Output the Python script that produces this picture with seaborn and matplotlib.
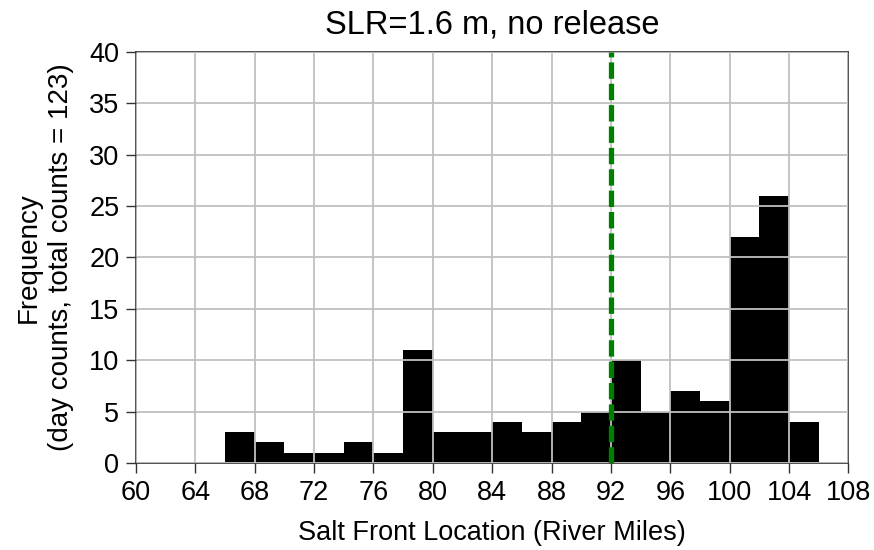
import numpy as np
import matplotlib
matplotlib.use("Agg")
import matplotlib.pyplot as plt
import seaborn as sns

bin_edges = list(range(66, 108, 2))
counts = [3, 2, 1, 1, 2, 1, 11, 3, 3, 4, 3, 4, 5, 10, 5, 7, 6, 22, 26, 4]
x_ticks = list(range(60, 112, 4))
y_ticks = list(range(0, 45, 5))
threshold = 92
title = "SLR=1.6 m, no release"
xlabel = "Salt Front Location (River Miles)"
ylabel = "Frequency\n(day counts, total counts = 123)"

sns.set_theme(style="white")
plt.rcParams['font.family'] = ['Liberation Sans', 'DejaVu Sans']
plt.rcParams['text.color'] = 'black'
plt.rcParams['axes.labelcolor'] = 'black'

centers = [e + 1 for e in bin_edges[:-1]]

fig = plt.figure(figsize=(8.74, 5.5), dpi=100)
ax = fig.add_axes([0.1556, 0.1582, 0.8152, 0.7473])

sns.histplot(x=centers, weights=counts, bins=bin_edges, color="black",
             alpha=1, edgecolor="none", linewidth=0, ax=ax, zorder=1)

ax.set_xlim(60, 108)
ax.set_ylim(0, 40)
ax.set_xticks(x_ticks)
ax.set_yticks(y_ticks)
ax.grid(True, color="#c0c0c0", linewidth=1.3, zorder=2)
ax.set_axisbelow(False)
for l in ax.get_xgridlines() + ax.get_ygridlines():
    l.set_zorder(2)

ax.axvline(threshold, color="#008000", linestyle=(0, (3.1, 0.95)), linewidth=3.8, zorder=5)

for s in ax.spines.values():
    s.set_color("#333333")
    s.set_linewidth(1.2)
    s.set_visible(True)

ax.tick_params(axis="both", which="major", direction="out", length=7, width=1,
               color="#333333", labelsize=19.5, labelcolor="black", pad=5,
               bottom=True, left=True)
ax.set_title(title, fontsize=23.5, pad=13, color="black")
ax.set_xlabel(xlabel, fontsize=19.5, labelpad=10)
ax.set_ylabel(ylabel, fontsize=20, labelpad=11, linespacing=1.3)

fig.savefig("out.png", dpi=100)
